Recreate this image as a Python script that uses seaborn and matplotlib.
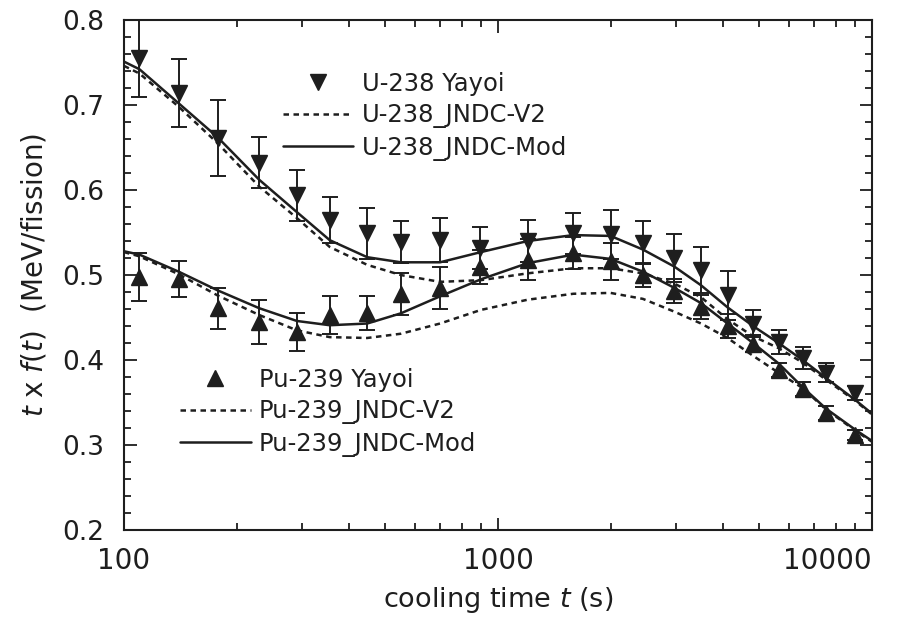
import numpy as np
import pandas as pd
import matplotlib
matplotlib.use("Agg")
import matplotlib.pyplot as plt
from matplotlib.lines import Line2D
from matplotlib.ticker import MultipleLocator, FixedLocator, NullFormatter
import seaborn as sns

# measured points (cooling time in s)
t_pts = [110, 140, 178, 230, 290, 355, 447, 550, 700, 895, 1200, 1590, 2000,
         2440, 2960, 3490, 4110, 4810, 5630, 6530, 7530, 9030]
u238_yayoi = [0.755, 0.714, 0.661, 0.632, 0.594, 0.565, 0.549, 0.539, 0.541, 0.532, 0.540,
              0.549, 0.548, 0.538, 0.520, 0.506, 0.476, 0.443, 0.421, 0.402, 0.385, 0.361]
u238_err = [0.046, 0.040, 0.045, 0.030, 0.030, 0.027, 0.030, 0.025, 0.026, 0.025, 0.025,
            0.024, 0.029, 0.025, 0.028, 0.027, 0.029, 0.016, 0.014, 0.013, 0.011, 0.008]
pu239_yayoi = [0.498, 0.495, 0.461, 0.445, 0.433, 0.453, 0.455, 0.478, 0.485, 0.509, 0.518,
               0.526, 0.516, 0.500, 0.481, 0.462, 0.440, 0.419, 0.388, 0.366, 0.338, 0.312]
pu239_err = [0.028, 0.021, 0.024, 0.026, 0.022, 0.022, 0.020, 0.025, 0.025, 0.020, 0.024,
             0.019, 0.022, 0.014, 0.014, 0.014, 0.014, 0.010, 0.008, 0.008, 0.008, 0.006]

# calculated curves
t_calc = [100, 110, 140, 178, 230, 290, 355, 447, 550, 700, 900, 1200, 1590, 2000,
          2440, 2960, 3490, 4110, 4810, 5630, 6530, 7530, 9030, 10000]
u238_v2 = [0.746, 0.737, 0.698, 0.655, 0.604, 0.567, 0.533, 0.512, 0.500, 0.492, 0.494, 0.502,
           0.508, 0.508, 0.502, 0.490, 0.474, 0.448, 0.428, 0.414, 0.397, 0.377, 0.352, 0.336]
u238_mod = [0.751, 0.742, 0.702, 0.662, 0.612, 0.574, 0.541, 0.521, 0.515, 0.515, 0.527, 0.540,
            0.547, 0.546, 0.530, 0.510, 0.488, 0.462, 0.440, 0.420, 0.400, 0.379, 0.353, 0.337]
pu239_v2 = [0.527, 0.522, 0.501, 0.476, 0.453, 0.435, 0.427, 0.426, 0.431, 0.443, 0.459, 0.471,
            0.478, 0.479, 0.472, 0.457, 0.443, 0.426, 0.405, 0.385, 0.367, 0.342, 0.317, 0.304]
pu239_mod = [0.528, 0.524, 0.504, 0.482, 0.461, 0.446, 0.441, 0.443, 0.455, 0.475, 0.495, 0.514,
             0.524, 0.519, 0.504, 0.485, 0.467, 0.443, 0.420, 0.396, 0.368, 0.343, 0.318, 0.305]

sns.set_style("ticks")
plt.rcParams['font.family'] = ['DejaVu Sans']
plt.rcParams['mathtext.fontset'] = 'dejavusans'

ink = "#1e1e1e"
dash = (0, (2.2, 1.8))

calc = pd.DataFrame({"t": t_calc, "U_V2": u238_v2, "U_Mod": u238_mod,
                     "Pu_V2": pu239_v2, "Pu_Mod": pu239_mod})

fig, ax = plt.subplots(figsize=(9.15, 6.23), dpi=100)
fig.subplots_adjust(left=0.1355, right=0.953, top=0.968, bottom=0.149)

for col, ls in [("U_V2", dash), ("U_Mod", "-"), ("Pu_V2", dash), ("Pu_Mod", "-")]:
    sns.lineplot(data=calc, x="t", y=col, ax=ax, color=ink, lw=1.8,
                 linestyle=ls, estimator=None, sort=False)

ax.errorbar(t_pts, u238_yayoi, yerr=u238_err, fmt="v", color=ink, ms=11,
            capsize=5.5, elinewidth=1.4, capthick=1.4, zorder=3)
ax.errorbar(t_pts, pu239_yayoi, yerr=pu239_err, fmt="^", color=ink, ms=11,
            capsize=5.5, elinewidth=1.4, capthick=1.4, zorder=3)

ax.set_xscale("log")
ax.set_xlim(100, 10000)
ax.set_ylim(0.2, 0.8)
ax.yaxis.set_major_locator(MultipleLocator(0.1))
ax.yaxis.set_minor_locator(MultipleLocator(0.02))
ax.xaxis.set_major_locator(FixedLocator([100, 1000, 10000]))
ax.xaxis.set_major_formatter(matplotlib.ticker.FixedFormatter(["100", "1000", "10000"]))
ax.xaxis.set_minor_locator(matplotlib.ticker.LogLocator(base=10, subs=np.arange(2, 10)))
ax.xaxis.set_minor_formatter(NullFormatter())
ax.yaxis.set_major_formatter(matplotlib.ticker.FormatStrFormatter("%.1f"))

ax.tick_params(which="both", direction="in", top=True, right=True, color=ink, width=1.3)
ax.tick_params(which="major", length=9)
ax.tick_params(which="minor", length=5)
ax.tick_params(axis="y", labelsize=19, pad=14, labelcolor=ink)
ax.tick_params(axis="x", labelsize=20, pad=12, labelcolor=ink)
for s in ax.spines.values():
    s.set_linewidth(1.5)
    s.set_color(ink)

# keep the last x tick label inside the figure
fig.canvas.draw()
ax.get_xticklabels()[-1].set_ha("right")

ax.set_xlabel("cooling time $t$ (s)", fontsize=19.5, labelpad=7, color=ink)
ax.set_ylabel("$t$ x $f$($t$)  (MeV/fission)", fontsize=20, labelpad=10, color=ink)

def legend_block(marker, names, anchor):
    handles = [Line2D([], [], ls="none", marker=marker, color=ink, ms=11),
               Line2D([], [], ls=dash, color=ink, lw=1.8),
               Line2D([], [], ls="-", color=ink, lw=1.8)]
    leg = ax.legend(handles, names, loc="upper left", bbox_to_anchor=anchor,
                    frameon=False, fontsize=17.5, handlelength=2.9, handletextpad=0.35,
                    labelspacing=0.3, borderpad=0, borderaxespad=0)
    for txt in leg.get_texts():
        txt.set_color(ink)
    return leg

leg1 = legend_block("v", ["U-238 Yayoi", "U-238_JNDC-V2", "U-238_JNDC-Mod"], (0.212, 0.898))
ax.add_artist(leg1)
legend_block("^", ["Pu-239 Yayoi", "Pu-239_JNDC-V2", "Pu-239_JNDC-Mod"], (0.075, 0.318))

fig.savefig("out.png", dpi=100)
